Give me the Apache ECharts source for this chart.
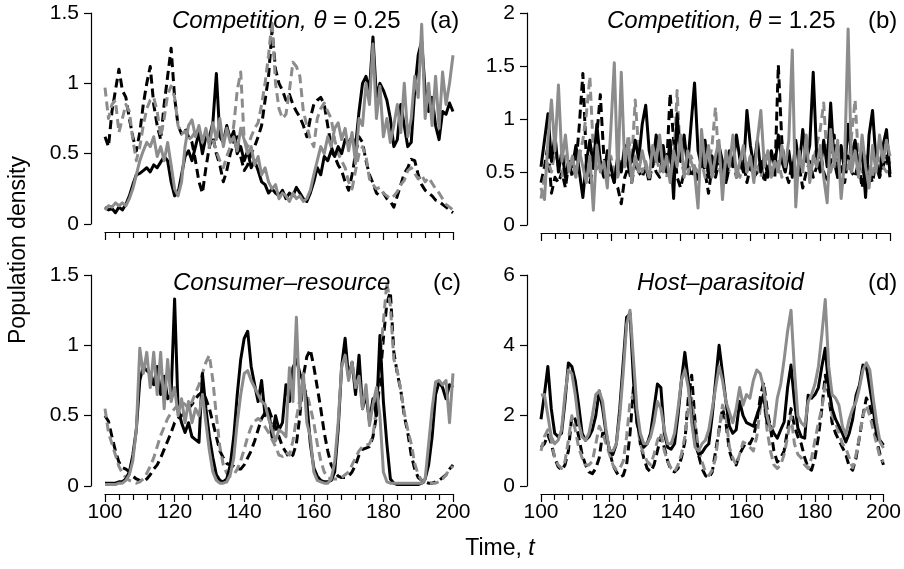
<!DOCTYPE html>
<html><head><meta charset="utf-8">
<script src="https://cdn.jsdelivr.net/npm/echarts@6/dist/echarts.min.js"></script>
<style>html,body{margin:0;padding:0;background:#fff}#c{width:904px;height:569px}</style>
</head><body><div id="c"></div>
<script>
const t = []; for (let k = 100; k <= 200; k++) t.push(k);
const xTicks = [100, 120, 140, 160, 180, 200];

// Panel (a) Competition θ=0.25
const aBlackSolid = [0.12,0.10,0.11,0.08,0.12,0.10,0.14,0.20,0.28,0.35, 0.36,0.38,0.40,0.37,0.42,0.40,0.44,0.48,0.45,0.30, 0.20,0.22,0.35,0.48,0.52,0.45,0.55,0.65,0.50,0.62, 0.62,0.72,1.07,0.62,0.58,0.70,0.60,0.66,0.50,0.55, 0.45,0.52,0.40,0.45,0.38,0.30,0.28,0.22,0.25,0.22, 0.20,0.24,0.18,0.22,0.20,0.26,0.22,0.18,0.16,0.22, 0.30,0.40,0.35,0.48,0.45,0.52,0.48,0.55,0.50,0.60, 0.58,0.62,0.55,0.80,1.00,1.05,0.95,1.33,0.90,1.00, 0.95,0.88,0.75,0.55,0.60,0.85,0.70,0.55,0.58,0.95, 1.20,1.30,0.95,0.80,0.90,0.70,0.60,0.80,0.78,0.86, 0.80];
const aGreySolid = [0.10,0.13,0.12,0.15,0.13,0.15,0.13,0.18,0.25,0.35, 0.45,0.52,0.58,0.55,0.62,0.48,0.55,0.45,0.58,0.42, 0.25,0.20,0.30,0.55,0.70,0.74,0.62,0.70,0.58,0.68, 0.55,0.72,0.60,0.75,0.55,0.68,0.58,0.62,0.52,0.68, 0.60,0.50,0.55,0.42,0.48,0.35,0.40,0.30,0.25,0.28, 0.18,0.22,0.20,0.16,0.22,0.18,0.20,0.16,0.18,0.24, 0.35,0.45,0.55,0.50,0.62,0.55,0.68,0.72,0.60,0.68, 0.52,0.65,0.43,0.75,0.70,1.00,0.85,1.28,0.75,0.98, 0.62,0.75,0.58,0.70,0.85,0.65,1.00,0.62,0.75,1.05, 0.90,1.42,0.75,1.00,0.70,1.05,0.68,1.08,0.85,1.00, 1.20];
const aBlackDash = [0.62,0.55,0.80,0.95,1.10,0.95,0.90,0.75,0.62,0.52, 0.65,0.85,1.00,1.12,0.85,0.70,0.60,0.85,1.05,1.25, 0.90,0.70,0.64,0.68,0.62,0.58,0.45,0.30,0.22,0.40, 0.55,0.62,0.50,0.42,0.30,0.38,0.50,0.58,0.62,0.48, 0.38,0.42,0.50,0.55,0.62,0.70,0.88,1.05,1.38,1.10, 1.00,0.95,0.88,0.92,0.85,0.80,0.76,0.70,0.62,0.75, 0.85,0.88,0.90,0.85,0.70,0.55,0.48,0.42,0.38,0.30, 0.24,0.35,0.50,0.62,0.58,0.45,0.35,0.29,0.22,0.20, 0.22,0.18,0.16,0.12,0.20,0.28,0.36,0.40,0.46,0.45, 0.35,0.28,0.24,0.22,0.20,0.17,0.16,0.14,0.12,0.10, 0.08];
const aGreyDash = [0.97,0.75,0.85,0.88,0.65,0.75,0.85,0.80,0.60,0.45, 0.55,0.70,0.82,0.88,0.90,0.80,0.62,0.75,0.92,0.98, 0.90,0.70,0.64,0.66,0.60,0.62,0.66,0.62,0.58,0.62, 0.58,0.60,0.52,0.45,0.40,0.48,0.55,0.70,0.95,1.08, 0.60,0.55,0.62,0.68,0.72,0.85,1.00,1.20,1.45,1.00, 0.82,0.75,0.78,0.95,1.15,1.12,1.05,0.80,0.70,0.60, 0.55,0.75,0.82,0.86,0.80,0.75,0.60,0.50,0.45,0.40, 0.30,0.25,0.38,0.50,0.55,0.48,0.32,0.28,0.25,0.26, 0.22,0.20,0.18,0.20,0.23,0.28,0.31,0.38,0.40,0.36, 0.32,0.35,0.30,0.33,0.29,0.25,0.22,0.18,0.14,0.12, 0.10];

// Panel (b) Competition θ=1.25
const bBlackSolid = [0.55,0.80,1.05,0.60,0.85,0.50,0.70,0.45,0.60,0.55, 0.75,0.50,0.26,0.60,0.80,0.55,0.95,0.60,0.45,0.70, 0.55,0.40,0.65,0.50,0.75,0.55,0.60,0.80,0.62,0.95, 1.13,0.70,0.55,0.85,0.60,0.75,0.50,0.80,0.25,1.05, 0.60,0.85,0.55,0.95,1.34,0.70,0.55,0.80,0.45,0.65, 0.50,0.75,0.60,0.40,0.70,0.55,0.85,0.62,0.50,1.08, 0.75,0.55,0.80,0.50,0.65,0.45,0.70,0.55,0.85,0.60, 0.50,0.70,0.45,0.80,0.55,0.90,0.60,0.75,1.44,0.65, 0.50,0.80,0.55,1.15,0.60,0.45,0.75,0.50,0.95,0.65, 0.80,0.55,0.70,0.26,0.85,1.08,0.60,0.45,0.75,0.90, 0.48];
const bGreySolid = [0.35,0.24,0.80,1.18,0.70,1.32,0.60,0.85,0.50,0.65, 0.45,0.70,0.55,0.40,0.65,0.14,0.75,0.50,0.60,0.35, 0.90,1.53,0.45,1.44,0.55,0.80,0.40,0.65,0.50,0.70, 0.55,0.45,0.75,0.60,0.85,0.50,0.65,0.40,0.70,0.55, 0.85,0.45,0.70,0.60,0.50,0.16,0.90,0.55,0.75,0.45, 0.65,0.80,0.24,0.70,0.55,0.85,0.45,0.60,0.75,0.50, 0.65,0.40,0.80,1.08,0.55,0.70,0.45,0.60,0.50,0.75, 0.55,0.80,1.65,0.17,0.70,0.50,0.85,0.40,0.65,0.55, 0.75,0.45,0.21,0.90,0.55,0.80,0.25,0.60,1.85,0.50, 0.70,0.45,0.85,0.55,0.35,0.75,0.50,0.85,0.60,0.80, 0.65];
const bBlackDash = [0.40,0.55,0.75,0.30,0.45,0.40,0.50,0.35,0.60,0.45, 0.55,0.95,1.43,0.60,0.40,0.55,0.85,1.23,0.65,0.45, 0.50,0.40,0.35,0.20,0.45,0.55,0.40,0.60,0.50,0.45, 0.55,0.40,0.60,0.50,0.45,0.70,0.55,1.24,0.80,0.45, 0.35,0.50,0.60,0.45,0.55,0.40,0.65,0.50,0.30,0.55, 0.45,0.60,0.50,0.40,0.55,0.65,0.45,0.50,0.60,0.40, 0.55,0.45,0.50,0.60,0.40,0.55,0.50,0.45,1.51,0.80, 0.50,0.40,0.60,0.45,0.55,0.35,0.50,0.60,0.45,0.55, 0.70,0.50,0.40,0.60,0.85,0.45,0.55,0.40,0.65,0.50, 0.45,0.60,0.35,0.55,0.50,0.40,0.60,0.45,0.55,0.65, 0.45];
const bGreyDash = [0.25,0.45,0.60,0.50,0.70,0.55,0.45,0.65,0.50,0.60, 0.45,0.65,0.80,1.05,1.40,0.70,0.50,0.60,0.45,0.55, 0.65,0.50,0.45,0.60,0.55,0.85,0.60,1.18,0.70,0.50, 0.60,0.45,0.55,0.65,0.50,0.60,0.45,0.70,0.55,1.27, 0.60,0.50,0.45,0.65,0.55,0.50,0.60,0.45,0.55,0.75, 1.11,0.55,0.45,0.60,0.50,0.65,0.55,0.45,0.60,0.50, 0.65,0.50,0.55,0.45,0.60,0.70,0.50,0.55,0.60,0.45, 0.55,0.65,0.50,0.45,0.60,0.55,0.70,0.50,0.60,0.75, 0.90,1.15,0.60,0.50,0.65,0.55,0.70,0.60,0.50,0.85, 1.18,0.60,0.50,0.65,0.55,0.45,0.70,0.60,0.55,0.50, 0.60];

// Panel (c) Consumer–resource
const cBlackSolid = [0.02,0.02,0.02,0.02,0.03,0.03,0.05,0.10,0.22,0.40, 0.75,0.85,0.82,0.80,0.72,0.85,0.65,0.78,0.62,0.65, 1.33,0.55,0.45,0.38,0.45,0.35,0.33,0.31,0.80,0.55, 0.35,0.20,0.08,0.04,0.03,0.05,0.15,0.35,0.65,0.90, 1.05,1.10,0.85,0.72,0.60,0.75,0.50,0.55,0.35,0.50, 0.40,0.45,0.72,0.60,0.84,0.90,0.80,0.74,0.60,0.30, 0.13,0.07,0.04,0.03,0.03,0.04,0.10,0.40,0.85,1.05, 0.77,0.88,0.65,0.93,0.55,0.65,0.46,0.62,0.50,1.07, 0.60,0.30,0.05,0.02,0.01,0.01,0.01,0.01,0.01,0.01, 0.01,0.02,0.05,0.15,0.35,0.65,0.74,0.70,0.62,0.72, 0.70];
const cGreySolid = [0.01,0.01,0.01,0.01,0.02,0.02,0.04,0.08,0.18,0.40, 0.98,0.80,0.95,0.70,0.95,0.65,0.95,0.55,0.90,0.60, 0.70,0.50,0.62,0.45,0.60,0.45,0.55,0.50,0.65,0.45, 0.25,0.10,0.04,0.02,0.02,0.03,0.08,0.20,0.45,0.65, 0.80,0.82,0.75,0.70,0.65,0.60,0.58,0.48,0.40,0.32, 0.40,0.38,0.35,0.84,0.60,1.20,0.55,0.80,0.45,0.35, 0.10,0.04,0.03,0.02,0.02,0.05,0.17,0.45,0.85,0.93, 0.75,0.88,0.70,0.78,0.55,0.72,0.43,0.58,0.70,0.50, 0.10,0.03,0.02,0.02,0.02,0.02,0.02,0.02,0.02,0.02, 0.02,0.02,0.05,0.30,0.55,0.74,0.75,0.72,0.75,0.45, 0.80];
const cBlackDash = [0.50,0.46,0.35,0.25,0.17,0.13,0.12,0.10,0.07,0.05, 0.04,0.03,0.05,0.08,0.12,0.15,0.20,0.26,0.32,0.38, 0.45,0.48,0.50,0.52,0.55,0.58,0.62,0.65,0.67,0.62, 0.55,0.45,0.35,0.25,0.20,0.16,0.15,0.14,0.12,0.12, 0.15,0.20,0.25,0.32,0.40,0.48,0.52,0.55,0.48,0.42, 0.35,0.28,0.24,0.20,0.22,0.30,0.50,0.78,0.92,0.97, 0.85,0.70,0.55,0.38,0.25,0.15,0.10,0.07,0.06,0.06, 0.07,0.10,0.15,0.22,0.26,0.27,0.28,0.35,0.50,0.75, 1.05,1.30,1.38,0.95,0.80,0.68,0.50,0.38,0.22,0.12, 0.06,0.04,0.03,0.02,0.02,0.03,0.04,0.06,0.08,0.12, 0.15];
const cGreyDash = [0.55,0.38,0.30,0.22,0.14,0.09,0.06,0.04,0.03,0.02, 0.03,0.05,0.09,0.14,0.20,0.28,0.36,0.42,0.48,0.52, 0.55,0.58,0.60,0.58,0.55,0.60,0.66,0.72,0.80,0.88, 0.93,0.75,0.50,0.28,0.15,0.09,0.07,0.08,0.12,0.18, 0.26,0.35,0.42,0.46,0.48,0.46,0.42,0.38,0.33,0.28, 0.22,0.21,0.24,0.22,0.32,0.48,0.62,0.70,0.66,0.56, 0.45,0.30,0.18,0.10,0.06,0.05,0.05,0.05,0.06,0.08, 0.10,0.15,0.20,0.25,0.28,0.29,0.30,0.36,0.55,0.90, 1.17,1.45,1.28,0.90,0.82,0.68,0.52,0.40,0.30,0.16, 0.08,0.04,0.02,0.02,0.02,0.02,0.03,0.05,0.08,0.12, 0.14];

// Panel (d) Host–parasitoid
const dBlackSolid = [1.90,2.60,3.40,2.20,1.50,1.40,1.50,2.40,3.50,3.40, 3.00,2.30,1.50,1.30,1.40,1.60,2.00,2.70,2.20,1.50, 1.00,0.90,1.20,2.20,3.50,4.80,4.90,3.00,1.80,1.40, 1.10,1.20,1.50,2.20,2.90,2.80,1.50,1.10,1.05,1.20, 2.00,3.00,3.80,3.00,2.00,1.20,0.90,0.95,1.10,1.20, 2.00,3.00,4.00,3.20,2.40,1.70,1.50,1.60,2.40,2.00, 1.80,1.75,1.70,2.00,2.30,2.60,1.80,1.70,1.50,1.36, 1.60,1.82,2.80,3.44,2.40,1.65,1.40,1.36,2.58,2.50, 2.60,2.80,3.40,3.92,2.80,2.20,1.90,1.70,1.50,1.25, 1.50,1.90,2.58,2.87,3.44,3.40,2.80,2.20,1.45,1.30, 1.16];
const dGreySolid = [2.58,2.60,2.00,1.40,1.20,1.30,1.60,2.60,3.30,3.20, 2.60,1.80,1.40,1.30,1.50,2.00,2.60,2.70,2.40,1.60, 1.00,1.00,1.20,2.00,3.20,4.60,5.00,3.60,2.20,1.50, 1.20,1.20,1.40,1.80,2.40,2.20,1.60,1.20,1.20,1.50, 2.20,3.00,3.30,2.80,1.80,1.10,1.00,1.20,1.30,1.60, 2.20,2.80,3.40,3.00,2.40,2.10,1.80,2.20,2.80,2.30, 2.60,2.50,3.00,3.30,3.20,2.80,2.00,1.60,1.70,2.50, 2.90,3.60,4.40,5.00,3.30,2.00,1.80,1.70,2.40,2.60, 2.90,3.40,4.30,5.30,3.40,2.60,2.50,2.30,1.70,1.45, 1.90,2.20,2.40,2.80,3.30,3.50,3.30,2.50,1.80,1.25, 1.08];
const dBlackDash = [1.10,1.20,1.45,1.20,0.80,0.55,0.45,0.60,1.00,2.00, 1.90,1.40,0.90,0.60,0.40,0.35,0.50,0.80,1.50,1.50, 1.00,0.60,0.40,0.25,0.30,0.60,1.50,2.80,2.00,1.20, 0.80,0.50,0.40,0.60,1.00,1.40,1.10,0.70,0.45,0.40, 0.50,0.80,1.25,2.50,3.15,1.80,0.88,0.50,0.30,0.23, 0.40,1.00,1.60,2.20,1.80,1.00,0.70,0.60,0.90,1.10, 1.25,1.20,1.40,1.80,2.50,2.95,2.20,1.65,1.00,0.68, 0.80,1.00,1.60,2.20,1.70,1.40,1.20,0.80,0.52,0.45, 0.80,1.40,2.20,3.15,2.60,1.80,1.50,1.30,1.10,0.90, 0.55,0.45,0.80,1.40,2.00,2.50,2.30,1.80,1.30,0.90, 0.60];
const dGreyDash = [1.00,1.40,1.60,1.30,0.80,0.60,0.50,0.70,1.30,2.00, 1.60,1.10,0.80,0.60,0.60,0.70,1.20,1.70,1.50,1.20, 0.90,0.60,0.45,0.50,0.70,1.40,2.40,2.60,1.80,1.20, 0.90,0.70,0.60,0.90,1.30,1.50,1.00,0.70,0.50,0.40, 0.60,0.90,1.40,2.20,2.50,1.70,1.10,0.70,0.40,0.30, 0.45,0.80,1.60,2.30,2.00,1.10,0.80,0.60,0.90,1.25, 1.20,1.10,1.00,1.40,2.20,2.50,1.60,1.00,0.60,0.50, 0.60,0.90,1.40,2.00,1.20,0.90,0.80,0.60,0.50,0.80, 1.30,1.80,2.20,2.90,2.95,2.00,1.80,1.50,1.20,1.08, 0.80,0.52,0.90,1.40,2.00,2.30,2.00,1.60,1.20,0.80, 0.68];

const panels = [
  { grid: {left: 105, top: 13, width: 348, height: 211}, yMax: 1.5, yInt: 0.5, showX: false,
    series: [aBlackDash, aGreyDash, aBlackSolid, aGreySolid] },
  { grid: {left: 541, top: 13, width: 349, height: 212}, yMax: 2, yInt: 0.5, showX: false,
    series: [bBlackDash, bGreyDash, bBlackSolid, bGreySolid] },
  { grid: {left: 105, top: 275, width: 348, height: 211}, yMax: 1.5, yInt: 0.5, showX: true,
    series: [cBlackDash, cGreyDash, cBlackSolid, cGreySolid] },
  { grid: {left: 541, top: 275, width: 349, height: 211}, yMax: 6, yInt: 2, showX: true,
    series: [dBlackDash, dGreyDash, dBlackSolid, dGreySolid] }
];
const styles = [
  {color: '#000000', type: [9, 5]},
  {color: '#8c8c8c', type: [9, 5]},
  {color: '#000000', type: 'solid'},
  {color: '#8c8c8c', type: 'solid'}
];
const FONT = 'Liberation Sans, Arial, sans-serif';
const option = {
  animation: false,
  backgroundColor: '#ffffff',
  grid: panels.map(p => Object.assign({containLabel: false}, p.grid)),
  xAxis: panels.map((p, i) => ({
    type: 'value', gridIndex: i, min: 100, max: 200, interval: 20,
    offset: 8,
    axisLine: {show: true, onZero: false, lineStyle: {color: '#000', width: 1.2}},
    axisTick: {show: true, length: 8, lineStyle: {color: '#000', width: 1.2}},
    minorTick: {show: true, splitNumber: 5, length: 6, lineStyle: {color: '#000', width: 1.2}},
    axisLabel: {show: p.showX, color: '#000', fontSize: 21, fontFamily: FONT, margin: 8},
    splitLine: {show: false}
  })),
  yAxis: panels.map((p, i) => ({
    type: 'value', gridIndex: i, min: 0, max: p.yMax, interval: p.yInt,
    offset: 14,
    axisLine: {show: true, onZero: false, lineStyle: {color: '#000', width: 1.2}},
    axisTick: {show: true, length: 7, lineStyle: {color: '#000', width: 1.2}},
    axisLabel: {color: '#000', fontSize: 21, fontFamily: FONT, margin: 12},
    splitLine: {show: false}
  })),
  title: [
    {text: '{i|Competition, θ} {n|= 0.25}', left: 167, top: 4},
    {text: '(a)', left: 425, top: 4},
    {text: '{i|Competition, θ} {n|= 1.25}', left: 602, top: 4},
    {text: '(b)', left: 863, top: 4},
    {text: '{i|Consumer–resource}', left: 168, top: 266},
    {text: '(c)', left: 428, top: 266},
    {text: '{i|Host–parasitoid}', left: 632, top: 266},
    {text: '(d)', left: 863, top: 266}
  ].map(o => Object.assign(o, {textStyle: {color: '#000', fontSize: 24, fontWeight: 'normal', fontFamily: FONT,
      rich: {i: {fontStyle: 'italic', fontSize: 24, fontFamily: FONT, color: '#000'}, n: {fontSize: 24, fontFamily: FONT, color: '#000'}}}})),
  graphic: [
    {type: 'text', x: 19, y: 250, rotation: Math.PI / 2,
     style: {text: 'Population density', fontSize: 23, fontFamily: FONT, fill: '#000', textAlign: 'center', textVerticalAlign: 'middle'}},
    {type: 'text', x: 500, y: 549,
     style: {rich: {n: {fontSize: 23, fontFamily: FONT, fill: '#000'}, i: {fontSize: 23, fontStyle: 'italic', fontFamily: FONT, fill: '#000'}},
             text: '{n|Time, }{i|t}', textAlign: 'center', textVerticalAlign: 'middle'}}
  ],
  series: []
};
panels.forEach((p, i) => {
  p.series.forEach((vals, j) => {
    option.series.push({
      type: 'line', xAxisIndex: i, yAxisIndex: i, showSymbol: false, symbol: 'none',
      data: t.map((tt, k) => [tt, vals[k]]),
      lineStyle: {color: styles[j].color, width: 3, type: styles[j].type, join: 'round'},
      z: 2 + j
    });
  });
});
const chart = echarts.init(document.getElementById('c'), null, {renderer: 'canvas'});
chart.setOption(option);
</script></body></html>
